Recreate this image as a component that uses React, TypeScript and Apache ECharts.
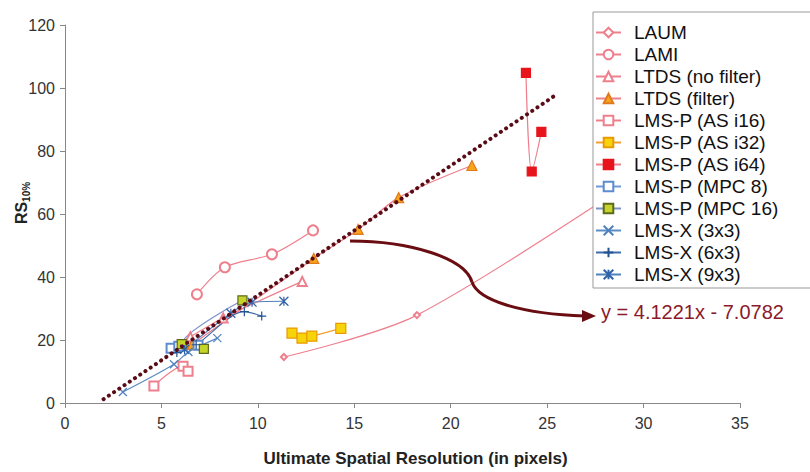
import React, { useEffect, useRef } from 'react';
import * as echarts from 'echarts';

const FONT = 'Arial, "Liberation Sans", Helvetica, sans-serif';
const PINK = '#ee7f8d';

const xTicks = { min: 0, max: 35, interval: 5 };
const yTicks = { min: 0, max: 120, interval: 20 };

const names = [
  'LAUM', 'LAMI', 'LTDS (no filter)', 'LTDS (filter)', 'LMS-P (AS i16)', 'LMS-P (AS i32)',
  'LMS-P (AS i64)', 'LMS-P (MPC 8)', 'LMS-P (MPC 16)', 'LMS-X (3x3)', 'LMS-X (6x3)', 'LMS-X (9x3)',
];

const laum = [[11.35, 14.6], [18.25, 27.9], [31, 77]];
const lami = [[6.84, 34.5], [8.29, 43.1], [10.73, 47.2], [12.86, 54.8]];
const ltdsNoFilter = [[6.5, 21.0], [8.2, 27.0], [12.3, 38.6]];
const ltdsFilter = [[6.6, 18.6], [12.9, 45.9], [15.2, 55.1], [17.3, 65.2], [21.1, 75.4]];
const asI16 = [[4.61, 5.4], [6.12, 11.7], [6.38, 10.1]];
const asI32 = [[11.77, 22.2], [12.29, 20.6], [12.8, 21.2], [14.3, 23.7]];
const asI64 = [[23.9, 104.8], [24.2, 73.5], [24.7, 86.1]];
const mpc8 = [[5.5, 17.4], [5.9, 18.0], [6.9, 18.3]];
const mpc16 = [[9.2, 32.6], [6.05, 18.7], [7.2, 17.2]];
const x3x3 = [[3.0, 3.5], [5.65, 12.3], [6.4, 16.2], [7.9, 20.6]];
const x6x3 = [[5.8, 16.0], [6.8, 18.5], [9.3, 29.0], [10.2, 27.6]];
const x9x3 = [[6.2, 17.0], [8.6, 28.5], [9.7, 32.0], [11.35, 32.3]];
const trend = [[2.0, 1.2], [25.5, 98.0]];
const trendLabel = 'y = 4.1221x - 7.0782';

const SYM_X = 'path://M0,0L10,10M10,0L0,10';
const SYM_PLUS = 'path://M5,0L5,10M0,5L10,5';
const SYM_STAR = 'path://M5,0L5,10M0,0L10,10M10,0L0,10';

function mk(name: string, data: number[][], lineColor: string, symbol: string, size: number, fill: string, border: string) {
  return {
    name,
    type: 'line',
    data,
    smooth: 0.3,
    symbol,
    symbolSize: size,
    showAllSymbol: true,
    lineStyle: { color: lineColor, width: 1.2 },
    itemStyle: { color: fill, borderColor: border, borderWidth: 1.2 },
    emphasis: { disabled: true },
    z: 3,
  };
}

export default function App() {
  const ref = useRef<HTMLDivElement>(null);
  useEffect(() => {
    const chart = echarts.init(ref.current as HTMLDivElement, null, { renderer: 'svg' });
    const BLUE = '#4f81bd';
    chart.setOption({
      animation: false,
      backgroundColor: '#fff',
      textStyle: { fontFamily: FONT },
      grid: { left: 65, right: 70, top: 25, bottom: 68 },
      xAxis: {
        type: 'value', ...xTicks,
        splitLine: { show: false },
        axisLine: { lineStyle: { color: '#888' } },
        axisTick: { length: 5, lineStyle: { color: '#888' } },
        axisLabel: { fontSize: 16, color: '#333', margin: 12, fontFamily: FONT },
        name: 'Ultimate Spatial Resolution (in pixels)',
        nameLocation: 'middle',
        nameGap: 47,
        nameMoveOverlap: false,
        nameTextStyle: { fontSize: 17, fontWeight: 'bold', color: '#222', fontFamily: FONT, padding: [0, 0, 0, 26] },
      },
      yAxis: {
        type: 'value', ...yTicks,
        splitLine: { show: false },
        axisLine: { show: true, lineStyle: { color: '#888' } },
        axisTick: { show: true, length: 5, lineStyle: { color: '#888' } },
        axisLabel: { fontSize: 16, color: '#333', margin: 10, fontFamily: FONT },
        name: '{a|RS}{b|10%}',
        nameLocation: 'middle',
        nameRotate: 90,
        nameGap: 34,
        nameMoveOverlap: false,
        nameTextStyle: {
          padding: [0, 0, 0, 22],
          rich: {
            a: { fontSize: 16, fontWeight: 'bold', color: '#222', fontFamily: FONT, lineHeight: 20 },
            b: { fontSize: 10, fontWeight: 'bold', color: '#222', fontFamily: FONT, verticalAlign: 'bottom', lineHeight: 12 },
          },
        },
      },
      legend: {
        orient: 'vertical',
        left: 593,
        top: 12,
        backgroundColor: '#fff',
        borderColor: '#999',
        borderWidth: 1,
        borderRadius: 0,
        padding: [11, 40, 4, 2],
        itemWidth: 25,
        itemHeight: 12,
        itemGap: 3,
        textStyle: { fontSize: 19, color: '#111', fontFamily: FONT, lineHeight: 12, padding: [0, 0, 0, 8] },
        data: names,
        z: 10,
      },
      series: [
        mk(names[0], laum, PINK, 'emptyDiamond', 6, PINK, PINK),
        mk(names[1], lami, PINK, 'emptyCircle', 10, PINK, PINK),
        mk(names[2], ltdsNoFilter, PINK, 'emptyTriangle', 9, PINK, PINK),
        mk(names[3], ltdsFilter, PINK, 'triangle', 10, '#f8a51c', '#e07a20'),
        mk(names[4], asI16, PINK, 'emptyRect', 9, PINK, PINK),
        mk(names[5], asI32, '#f0a030', 'rect', 10, '#f7d40a', '#e89a00'),
        mk(names[6], asI64, PINK, 'rect', 9, '#e8141b', '#e8141b'),
        mk(names[7], mpc8, '#6f9ad6', 'emptyRect', 9, '#5c8cd0', '#5c8cd0'),
        mk(names[8], mpc16, '#7d93c8', 'rect', 9, '#c5d42a', '#5d6a1a'),
        mk(names[9], x3x3, '#5b8cc4', SYM_X, 8, '#4f81bd', '#4f81bd'),
        mk(names[10], x6x3, '#3f6aa8', SYM_PLUS, 9, '#24518f', '#24518f'),
        mk(names[11], x9x3, BLUE, SYM_STAR, 9, '#2f62a8', '#2f62a8'),
        {
          name: 'trend',
          type: 'line',
          data: trend,
          showSymbol: false,
          symbol: 'none',
          lineStyle: { color: '#5a0c16', width: 4, type: [0.1, 6.2], cap: 'round' },
          emphasis: { disabled: true },
          z: 5,
        },
      ],
      graphic: [
        {
          type: 'bezierCurve',
          shape: { x1: 350, y1: 241, x2: 472, y2: 282, cpx1: 410, cpy1: 241, cpx2: 465, cpy2: 258 },
          style: { stroke: '#6a0d12', lineWidth: 3, fill: 'none' },
          z: 6,
        },
        {
          type: 'bezierCurve',
          shape: { x1: 472, y1: 282, x2: 585, y2: 316, cpx1: 478, cpy1: 300, cpx2: 520, cpy2: 314 },
          style: { stroke: '#6a0d12', lineWidth: 3, fill: 'none' },
          z: 6,
        },
        {
          type: 'polygon',
          shape: { points: [[582, 310], [596, 316], [582, 322]] },
          style: { fill: '#6a0d12' },
          z: 6,
        },
        {
          type: 'text',
          left: 601,
          top: 302,
          style: { text: trendLabel, fontSize: 20, fill: '#8b1a2a', fontFamily: FONT },
          z: 20,
        },
      ],
    });
    return () => chart.dispose();
  }, []);
  return <div ref={ref} style={{ width: 810, height: 472, position: 'fixed', left: 0, top: 0 }} />;
}
